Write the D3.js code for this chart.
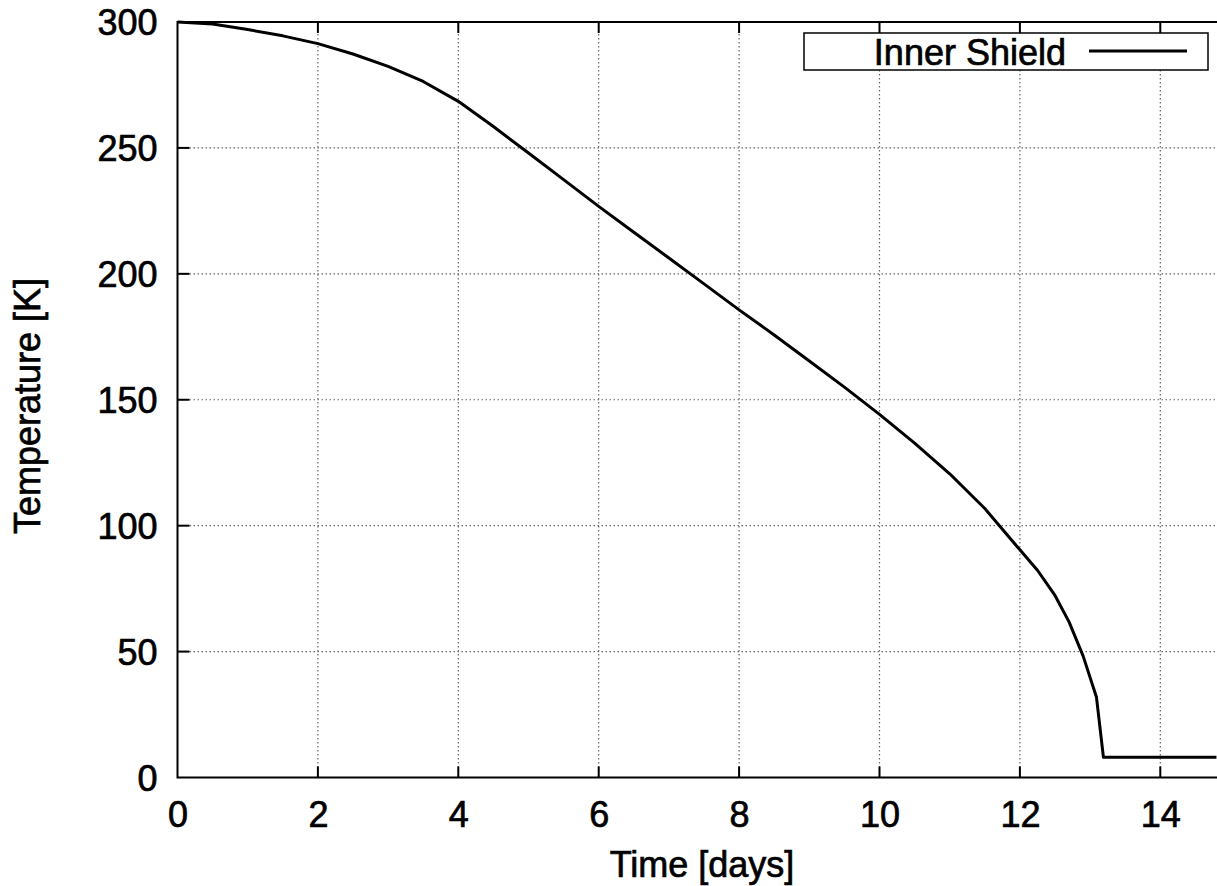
<!DOCTYPE html>
<html>
<head>
<meta charset="utf-8">
<script src="https://cdn.jsdelivr.net/npm/d3@7"></script>
<style>
    html, body { margin: 0; padding: 0; background: #fff; }
    svg { display: block; font-family: "Liberation Sans", Arial, sans-serif; }
    svg text { stroke: #000; stroke-width: 0.7px; }
</style>
</head>
<body>
<svg id="chart"></svg>
<script>
// Inner shield temperature
const days = [0, 0.5, 1, 1.5, 2, 2.5, 3, 3.5, 4, 4.5, 5, 5.5, 6, 6.5, 7, 7.5, 8, 8.5, 9, 9.5,
    10, 10.5, 11, 11.5, 12, 12.25, 12.5, 12.7, 12.9, 13.09, 13.19, 14.8];
const temps = [300, 299.2, 297, 294.5, 291.4, 287.3, 282.4, 276.4, 268.5, 258.5, 248, 237.4, 226.8, 216.5, 206.3, 196, 185.7, 175.7, 165.4, 155,
    144.2, 132.8, 120.6, 106.8, 90.4, 82.3, 72.3, 61.8, 48.3, 32, 8, 8];
const xTicks = [0, 2, 4, 6, 8, 10, 12, 14];
const yTicks = [0, 50, 100, 150, 200, 250, 300];
const seriesName = "Inner Shield";

const width = 1217, height = 886;
const plotLeft = 177.5, plotTop = 22, plotBottom = 777.5;
const pxPerDay = 70.2;

const svg = d3.select("#chart")
    .attr("width", width)
    .attr("height", height);

const x = d3.scaleLinear().domain([0, (width - plotLeft) / pxPerDay]).range([plotLeft, width]);
const y = d3.scaleLinear().domain([0, 300]).range([plotBottom, plotTop]);

// grid
const grid = svg.append("g")
    .attr("stroke", "#666")
    .attr("stroke-width", 1.2)
    .attr("stroke-dasharray", "1.5,2.5");
grid.selectAll("line.vx")
    .data(xTicks.filter(d => d > 0))
    .join("line")
    .attr("class", "vx")
    .attr("x1", d => x(d)).attr("x2", d => x(d))
    .attr("y1", plotTop).attr("y2", plotBottom);
grid.selectAll("line.hy")
    .data(yTicks.filter(d => d > 0 && d < 300))
    .join("line")
    .attr("class", "hy")
    .attr("x1", plotLeft).attr("x2", width)
    .attr("y1", d => y(d)).attr("y2", d => y(d));

// axes, gnuplot style: inward ticks, mirrored on top
const tickLen = 11;
const xAxis = d3.axisBottom(x).tickValues(xTicks).tickSize(0).tickPadding(0).tickFormat(d3.format("d"));
const xg = svg.append("g").attr("transform", `translate(0,${plotBottom})`).call(xAxis);
xg.select(".domain").remove();
xg.selectAll("text")
    .attr("y", 49).attr("dy", null)
    .style("font-size", "36px").attr("fill", "#000");

const yAxis = d3.axisLeft(y).tickValues(yTicks).tickSize(0).tickPadding(0);
const yg = svg.append("g").attr("transform", `translate(${plotLeft},0)`).call(yAxis);
yg.select(".domain").remove();
yg.selectAll("text")
    .attr("x", -20).attr("dy", "0.36em")
    .style("font-size", "36px").attr("fill", "#000");

const ticks = svg.append("g").attr("stroke", "#000").attr("stroke-width", 2);
ticks.selectAll("line.b")
    .data(xTicks.filter(d => d > 0))
    .join("line")
    .attr("class", "b")
    .attr("x1", d => x(d)).attr("x2", d => x(d))
    .attr("y1", plotBottom).attr("y2", plotBottom - tickLen);
ticks.selectAll("line.t")
    .data(xTicks.filter(d => d > 0))
    .join("line")
    .attr("class", "t")
    .attr("x1", d => x(d)).attr("x2", d => x(d))
    .attr("y1", plotTop).attr("y2", plotTop + tickLen);
ticks.selectAll("line.l")
    .data(yTicks.filter(d => d > 0 && d < 300))
    .join("line")
    .attr("class", "l")
    .attr("x1", plotLeft).attr("x2", plotLeft + tickLen + 1)
    .attr("y1", d => y(d)).attr("y2", d => y(d));

// border (right side is cut off in the original)
svg.append("path")
    .attr("fill", "none")
    .attr("stroke", "#000")
    .attr("stroke-width", 2)
    .attr("d", `M${width},${plotTop}H${plotLeft}V${plotBottom}H${width}`);

// data line
const points = days.map((d, i) => [d, temps[i]]);
svg.append("path")
    .datum(points)
    .attr("fill", "none")
    .attr("stroke", "#000")
    .attr("stroke-width", 3)
    .attr("stroke-linejoin", "round")
    .attr("d", d3.line().x(d => x(d[0])).y(d => y(d[1])));

// legend
const legend = svg.append("g");
legend.append("rect")
    .attr("x", 804).attr("y", 33)
    .attr("width", 404).attr("height", 37)
    .attr("fill", "#fff").attr("stroke", "#000").attr("stroke-width", 1.5);
legend.append("text")
    .attr("x", 1066).attr("y", 65)
    .attr("text-anchor", "end")
    .style("font-size", "36px")
    .text(seriesName);
legend.append("line")
    .attr("x1", 1089).attr("x2", 1187)
    .attr("y1", 51).attr("y2", 51)
    .attr("stroke", "#000").attr("stroke-width", 3);

// axis titles
svg.append("text")
    .attr("x", 702).attr("y", 877)
    .attr("text-anchor", "middle")
    .style("font-size", "36px")
    .text("Time [days]");
svg.append("text")
    .attr("transform", "translate(40,406) rotate(-90)")
    .attr("text-anchor", "middle")
    .style("font-size", "36px")
    .text("Temperature [K]");
</script>
</body>
</html>
